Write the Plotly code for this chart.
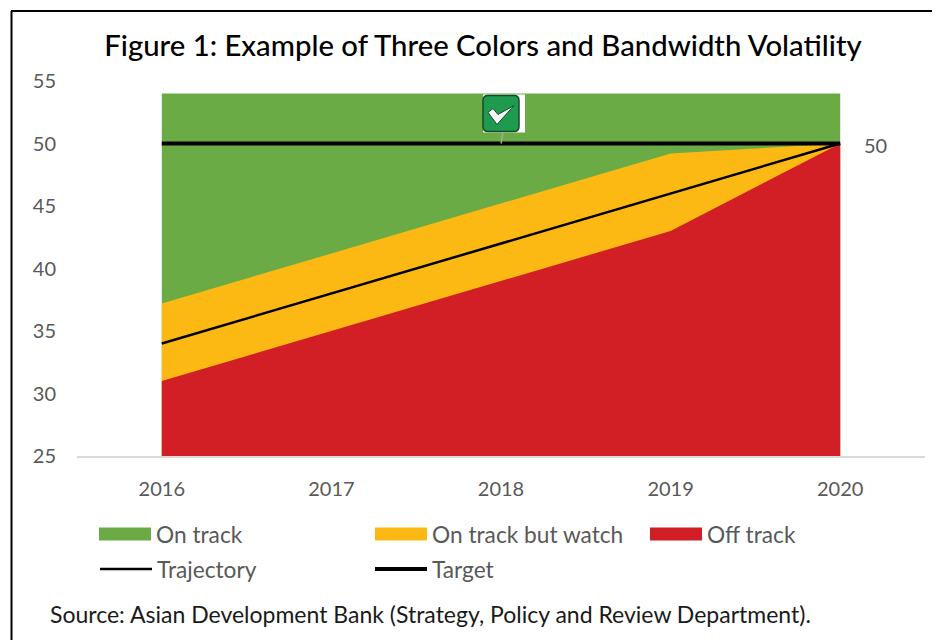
import plotly.graph_objects as go

# The page body has an 8px margin, so the figure is sized to fit the window inside it.
W, H = 940, 640
OFF = 8
years = ["2016", "2017", "2018", "2019", "2020"]
on_track = [54, 54, 54, 54, 54]
watch = [37.2, 41.2, 45.2, 49.2, 50]
off_track = [31, 35, 39, 43, 50]
trajectory = [34, 38, 42, 46, 50]
target = [50, 50, 50, 50, 50]
y_ticks = [25, 30, 35, 40, 45, 50, 55]
achieved_icon = [52.4]

title = "Figure 1: Example of Three Colors and Bandwidth Volatility"
source = "Source: Asian Development Bank (Strategy, Policy and Review Department)."
FONT = "Lato"
GREEN, YELLOW, RED = "#6aab45", "#fdb913", "#d21f26"
GREY = "#595959"

def px(x):
    return (x - OFF) / (W - OFF)

def py(y):
    return 1 - (y - OFF) / (H - OFF)

fig = go.Figure()
for name, vals, col in [("On track", on_track, GREEN),
                        ("On track but watch", watch, YELLOW),
                        ("Off track", off_track, RED)]:
    fig.add_trace(go.Scatter(x=years, y=vals, name=name, mode="lines", fill="tozeroy",
                             fillcolor=col, line=dict(width=0, color=col), showlegend=False))
fig.add_trace(go.Scatter(x=years, y=trajectory, name="Trajectory", mode="lines",
                         line=dict(color="#000000", width=2.5), showlegend=False))
fig.add_trace(go.Scatter(x=years, y=target, name="Target", mode="lines",
                         line=dict(color="#000000", width=4), showlegend=False))

shapes = [
    dict(type="line", xref="paper", yref="paper", x0=px(11.5), x1=px(11.5), y0=py(11), y1=0,
         line=dict(color="#000000", width=2)),
    dict(type="line", xref="paper", yref="paper", x0=px(11), x1=1, y0=py(11), y1=py(11),
         line=dict(color="#000000", width=2)),
]

# icon anchored on the 2018 category
ax, ay = years.index("2018"), achieved_icon[0]
def icon(path, fill, line=None, lw=0):
    return dict(type="path", path=path, xref="x", yref="y", xsizemode="pixel", ysizemode="pixel",
                xanchor=ax, yanchor=ay, fillcolor=fill, layer="above",
                line=dict(color=line or fill, width=lw))
shapes += [
    dict(type="line", xref="x", yref="y", xsizemode="pixel", ysizemode="pixel", xanchor=ax, yanchor=ay,
         x0=2, y0=-19, x1=0, y1=-30, line=dict(color="#a6a6a6", width=1.5), layer="above"),
    icon("M-18,19 H24 V-19 H-18 Z", "#ffffff"),
    icon("M-13,18 H13 Q18,18 18,13 V-13 Q18,-18 13,-18 H-13 Q-18,-18 -18,-13 V13 Q-18,18 -13,18 Z",
         "#1e9b4f", "#17492c", 1.5),
    icon("M-13,1 L-8,5 L-3,-1 L13,8 L-4,-11 Z", "#f4f4f4", "#17492c", 1),
]

annotations = [
    dict(text="50", x=years.index("2020"), y=target[-1], xref="x", yref="y", xshift=35, yshift=-2,
         showarrow=False, font=dict(family=FONT, size=20, color=GREY)),
    dict(text=source, x=px(48), y=py(614), xref="paper", yref="paper", xanchor="left", yanchor="middle",
         showarrow=False, font=dict(family=FONT, size=23, color="#1a1a1a")),
]

# legend
legend_items = [("On track", GREEN, 99, 534, "box"), ("On track but watch", YELLOW, 375, 534, "box"),
                ("Off track", RED, 650, 534, "box"), ("Trajectory", "#000000", 100, 569, 2.5),
                ("Target", "#000000", 375, 569, 4)]
for name, col, x0, y0, kind in legend_items:
    if kind == "box":
        shapes.append(dict(type="rect", xref="paper", yref="paper", x0=px(x0), x1=px(x0 + 52),
                           y0=py(y0 - 6.5), y1=py(y0 + 6.5), fillcolor=col, line=dict(width=0)))
    else:
        shapes.append(dict(type="line", xref="paper", yref="paper", x0=px(x0), x1=px(x0 + 52),
                           y0=py(y0), y1=py(y0), line=dict(color=col, width=kind)))
    annotations.append(dict(text=name, x=px(x0 + 55), y=py(y0), xref="paper", yref="paper",
                            xanchor="left", yanchor="middle", showarrow=False,
                            font=dict(family=FONT, size=22.7, color=GREY)))

fig.update_layout(
    width=W - OFF, height=H - OFF, margin=dict(l=0, r=0, t=0, b=0, autoexpand=False),
    paper_bgcolor="#ffffff", plot_bgcolor="#ffffff", showlegend=False,
    title=dict(text=title, x=px(483), xanchor="center", y=py(46), yanchor="middle",
               font=dict(family=FONT, size=29.3, color="#000000", weight=500)),
    xaxis=dict(type="category", categoryorder="array", categoryarray=years, range=[-0.5, 4.5],
               domain=[px(77), px(925)], showgrid=False, zeroline=False, automargin=False,
               showline=True, linecolor="#d9d9d9", linewidth=2, ticks="",
               tickfont=dict(family=FONT, size=20, color=GREY), ticklabelstandoff=14),
    yaxis=dict(range=[25, 55], domain=[py(456), py(81)], tickvals=y_ticks, showgrid=False, zeroline=False,
               automargin=False, showline=False, ticks="", tickfont=dict(family=FONT, size=20, color=GREY),
               ticklabelstandoff=20),
    shapes=shapes, annotations=annotations,
)
fig.write_html("out.html")
